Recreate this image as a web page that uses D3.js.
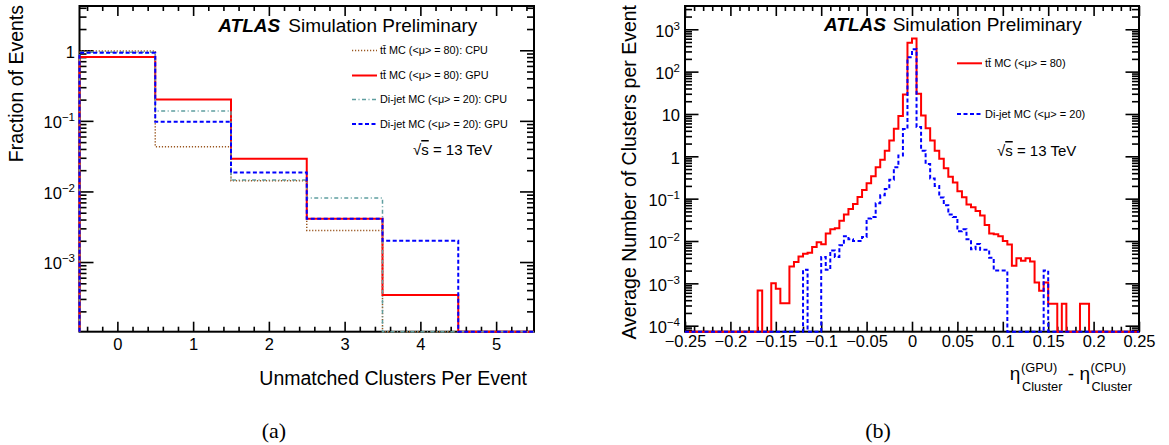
<!DOCTYPE html>
<html>
<head>
<meta charset="utf-8">
<script src="https://cdn.jsdelivr.net/npm/d3@7"></script>
<style>
  body { margin: 0; background: #fff; }
  svg { display: block; font-family: "Liberation Sans", Arial, Helvetica, sans-serif; }
</style>
</head>
<body>
<svg id="chart" width="1169" height="445"></svg>
<script>
// ---- panel (a): fraction of events vs unmatched clusters per event
const unmatchedClusters = [0, 1, 2, 3, 4, 5];
const ttbarCpuFrac = [0.98, 0.043, 0.0142, 0.0028, 0, 0];
const ttbarGpuFrac = [0.80, 0.20, 0.029, 0.0041, 0.00034, 0];
const dijetCpuFrac = [0.94, 0.138, 0.0145, 0.0081, 0, 0];
const dijetGpuFrac = [0.92, 0.097, 0.0185, 0.0041, 0.0020, 0];

// ---- panel (b): average clusters per event vs eta(GPU) - eta(CPU), bins of 0.005 from -0.25
const etaLow = -0.25;
const etaBinWidth = 0.005;
const ttbarEtaDiff = [
  0, 0, 0, 0, 0, 0, 0, 0, 0, 0,
  0, 0, 0, 0, 0, 0, 6.8e-4, 0, 0, 1.0e-3,
  7.5e-4, 3.4e-4, 3.4e-4, 2.5e-3, 3.2e-3, 4.3e-3, 5.0e-3, 5.3e-3, 7.2e-3, 9.4e-3,
  8.4e-3, 0.015, 0.019, 0.020, 0.030, 0.042, 0.057, 0.075, 0.11, 0.16,
  0.23, 0.34, 0.55, 0.83, 1.36, 2.35, 4.5, 9.0, 29, 480,
  610, 30, 9.2, 4.6, 2.35, 1.36, 0.88, 0.52, 0.33, 0.24,
  0.15, 0.108, 0.073, 0.063, 0.051, 0.040, 0.024, 0.015, 0.0144, 0.013,
  0.010, 0.0083, 0.0026, 0.0039, 0.0034, 0.0039, 0.0033, 1.05e-3, 6.7e-4, 1.05e-3,
  3.3e-4, 3.3e-4, 0, 3.3e-4, 0, 0, 0, 3.3e-4, 3.3e-4, 0,
  0, 0, 0, 0, 0, 0, 0, 0, 0, 0
];
const dijetEtaDiff = [
  0, 0, 0, 0, 0, 0, 0, 0, 0, 0,
  0, 0, 0, 0, 0, 0, 0, 0, 0, 0,
  0, 0, 0, 0, 0, 0, 2.1e-3, 0, 0, 0,
  4.2e-3, 2.1e-3, 6.0e-3, 4.2e-3, 7.9e-3, 0.013, 0.011, 0.010, 0.010, 0.0125,
  0.034, 0.037, 0.078, 0.12, 0.17, 0.28, 0.55, 1.05, 4.4, 220,
  340, 4.9, 1.36, 0.66, 0.30, 0.20, 0.107, 0.070, 0.042, 0.037,
  0.017, 0.019, 0.011, 0.0064, 0.0085, 0.0062, 0.0062, 0.0040, 0.0020, 0.0020,
  0.0020, 0, 0, 0, 0, 0, 0, 0, 0, 0.0020,
  0, 0, 0, 0, 0, 0, 0, 0, 0, 0,
  0, 0, 0, 0, 0, 0, 0, 0, 0, 0
];

// tick labels
const unmatchedTicks = [0, 1, 2, 3, 4, 5];
const fractionTicks = [1e-3, 1e-2, 1e-1, 1];
const etaTicks = [-0.25, -0.2, -0.15, -0.1, -0.05, 0, 0.05, 0.1, 0.15, 0.2, 0.25];
const clusterTicks = [1e-4, 1e-3, 1e-2, 1e-1, 1, 10, 100, 1000];

const svg = d3.select("#chart");
const sansFont = "Liberation Sans, Arial, Helvetica, sans-serif";
const labelFont = 16.5;

const powerLabel = (text, supSize, supShift) => text.each(function (d) {
    const e = Math.round(Math.log10(d));
    const t = d3.select(this).text(null);
    if (e === 0) { t.text("1"); return; }
    if (e === 1) { t.text("10"); return; }
    t.append("tspan").text("10");
    t.append("tspan")
        .attr("font-size", supSize)
        .attr("dy", -supShift)
        .text(e < 0 ? "\u2212" + (-e) : String(e));
});

const logMinors = (y) => {
    const [lo, hi] = y.domain();
    const out = [];
    for (let e = Math.floor(Math.log10(lo)); e <= Math.ceil(Math.log10(hi)); e++) {
        for (let m = 2; m <= 9; m++) {
            const v = m * Math.pow(10, e);
            if (v > lo && v < hi) out.push(v);
        }
    }
    return out;
};

const drawFrame = (x, y, opts) => {
    const {xMajor, xMinor, xFormat, xPad, xLen, yLen} = opts;
    const [x0, x1] = x.range();
    const [y0, y1] = y.range();
    const g = svg.append("g");
    const style = a => a.call(s => s.select(".domain").remove())
        .call(s => s.selectAll("line").attr("stroke", "#000").attr("stroke-width", 1.6))
        .attr("font-family", sansFont)
        .attr("font-size", labelFont)
        .call(s => s.selectAll("text").attr("fill", "#000"));

    g.append("g").attr("transform", `translate(0,${y0})`)
        .call(d3.axisBottom(x).tickValues(xMajor).tickSize(-xLen[0]).tickSizeOuter(0).tickPadding(xPad).tickFormat(xFormat))
        .call(style);
    g.append("g").attr("transform", `translate(0,${y0})`)
        .call(d3.axisBottom(x).tickValues(xMinor).tickSize(-xLen[1]).tickSizeOuter(0).tickFormat(""))
        .call(style);
    g.append("g").attr("transform", `translate(0,${y1})`)
        .call(d3.axisTop(x).tickValues(xMajor).tickSize(-xLen[0]).tickSizeOuter(0).tickFormat(""))
        .call(style);
    g.append("g").attr("transform", `translate(0,${y1})`)
        .call(d3.axisTop(x).tickValues(xMinor).tickSize(-xLen[1]).tickSizeOuter(0).tickFormat(""))
        .call(style);

    const yMinor = logMinors(y);
    const yMajor = opts.yMajor.filter(v => v >= y.domain()[0] && v <= y.domain()[1]);
    g.append("g").attr("transform", `translate(${x0},0)`)
        .call(d3.axisLeft(y).tickValues(yMajor).tickSize(-yLen[0]).tickSizeOuter(0).tickPadding(opts.yPad))
        .call(style)
        .call(s => s.selectAll(".tick text").attr("dy", "0.42em").call(powerLabel, 11.5, 7));
    g.append("g").attr("transform", `translate(${x0},0)`)
        .call(d3.axisLeft(y).tickValues(yMinor).tickSize(-yLen[1]).tickSizeOuter(0).tickFormat(""))
        .call(style);
    g.append("g").attr("transform", `translate(${x1},0)`)
        .call(d3.axisRight(y).tickValues(yMajor).tickSize(-yLen[0]).tickSizeOuter(0).tickFormat(""))
        .call(style);
    g.append("g").attr("transform", `translate(${x1},0)`)
        .call(d3.axisRight(y).tickValues(yMinor).tickSize(-yLen[1]).tickSizeOuter(0).tickFormat(""))
        .call(style);

    g.append("rect")
        .attr("x", x0).attr("y", y1)
        .attr("width", x1 - x0).attr("height", y0 - y1)
        .attr("fill", "none").attr("stroke", "#000").attr("stroke-width", 2);
};

const drawHist = (x, y, edges, values, style) => {
    const bottom = y.range()[0];
    const yv = v => v > 0 ? y(v) : bottom;
    const pts = [[x(edges[0]), bottom]];
    values.forEach((v, i) => {
        pts.push([x(edges[i]), yv(v)], [x(edges[i + 1]), yv(v)]);
    });
    pts.push([x(edges[edges.length - 1]), bottom]);
    svg.append("path")
        .attr("d", d3.line()(pts))
        .attr("fill", "none")
        .attr("stroke", style.color)
        .attr("stroke-width", style.width)
        .attr("stroke-dasharray", style.dash);
};

const drawLegend = (entries, x, ys, fontSize) => {
    entries.forEach((e, i) => {
        svg.append("line")
            .attr("x1", x).attr("x2", x + 25)
            .attr("y1", ys[i]).attr("y2", ys[i])
            .attr("stroke", e.style.color)
            .attr("stroke-width", e.style.width)
            .attr("stroke-dasharray", e.style.dash);
        svg.append("text")
            .attr("x", x + 28).attr("y", ys[i])
            .attr("dy", "0.35em")
            .attr("font-size", fontSize)
            .text(e.label);
    });
};

const atlasLabel = (x, xs, yb) => {
    svg.append("text").attr("x", x).attr("y", yb)
        .attr("font-size", 19).attr("font-weight", "bold").attr("font-style", "italic")
        .text("ATLAS");
    svg.append("text").attr("x", xs).attr("y", yb)
        .attr("font-size", 19)
        .text("Simulation Preliminary");
};

const sqrtS = (x, yb) => {
    const t = svg.append("text").attr("x", x).attr("y", yb).attr("font-size", 15);
    t.append("tspan").text("\u221A");
    t.append("tspan").attr("text-decoration", "overline").text("s");
    t.append("tspan").text(" = 13 TeV");
};

const styles = {
    ttCpu: {color: "#99561f", width: 1.5, dash: "1.2,1.8"},
    ttGpu: {color: "#ff0000", width: 2, dash: null},
    djCpu: {color: "#5f9ea0", width: 1.5, dash: "4,2.5,1,2.5"},
    djGpu: {color: "#0000ff", width: 2, dash: "4,2.5"}
};

// ---------------- panel (a)
const xA = d3.scaleLinear().domain([-0.5, 5.5]).range([79.5, 534]);
const yA = d3.scaleLog().domain([1.03e-4, 4.24]).range([331.7, 6]);
const edgesA = unmatchedClusters.map(c => c - 0.5).concat(unmatchedClusters[unmatchedClusters.length - 1] + 0.5);

drawFrame(xA, yA, {
    xMajor: unmatchedTicks,
    xMinor: d3.range(-2, 28).map(i => i / 5).filter(v => Math.abs(v - Math.round(v)) > 1e-6),
    xFormat: d3.format("d"),
    xPad: 6.5, xLen: [10, 5],
    yMajor: fractionTicks, yLen: [14, 7], yPad: 4.5
});
drawHist(xA, yA, edgesA, ttbarCpuFrac, styles.ttCpu);
drawHist(xA, yA, edgesA, ttbarGpuFrac, styles.ttGpu);
drawHist(xA, yA, edgesA, dijetCpuFrac, styles.djCpu);
drawHist(xA, yA, edgesA, dijetGpuFrac, styles.djGpu);

atlasLabel(218.3, 288.3, 31.7);
drawLegend([
    {label: "tt\u0304 MC (<\u03BC> = 80): CPU", style: styles.ttCpu},
    {label: "tt\u0304 MC (<\u03BC> = 80): GPU", style: styles.ttGpu},
    {label: "Di-jet MC (<\u03BC> = 20): CPU", style: styles.djCpu},
    {label: "Di-jet MC (<\u03BC> = 20): GPU", style: styles.djGpu}
], 352, [50.5, 75.5, 99.5, 124], 10.8);
sqrtS(413, 155);

svg.append("text")
    .attr("x", 527).attr("y", 385)
    .attr("text-anchor", "end").attr("font-size", 19.5)
    .text("Unmatched Clusters Per Event");
svg.append("text")
    .attr("transform", "translate(22.5,5) rotate(-90)")
    .attr("text-anchor", "end").attr("font-size", 19.5)
    .text("Fraction of Events");

// ---------------- panel (b)
const xB = d3.scaleLinear().domain([-0.25, 0.25]).range([685, 1139]);
const yB = d3.scaleLog().domain([Math.pow(10, -4.142), Math.pow(10, 3.55)]).range([331.7, 6]);
const edgesB = d3.range(ttbarEtaDiff.length + 1).map(i => etaLow + i * etaBinWidth);

drawFrame(xB, yB, {
    xMajor: etaTicks,
    xMinor: d3.range(-25, 26).filter(i => i % 5 !== 0).map(i => i / 100),
    xFormat: d => d === 0 ? "0" : (d < 0 ? "\u2212" : "") + String(+Math.abs(d).toFixed(2)),
    xPad: 3.8, xLen: [10, 5],
    yMajor: clusterTicks, yLen: [13.5, 7], yPad: 5
});
drawHist(xB, yB, edgesB, ttbarEtaDiff, styles.ttGpu);
drawHist(xB, yB, edgesB, dijetEtaDiff, styles.djGpu);

atlasLabel(824, 892.7, 31);
drawLegend([
    {label: "tt\u0304 MC (<\u03BC> = 80)", style: styles.ttGpu},
    {label: "Di-jet MC (<\u03BC> = 20)", style: styles.djGpu}
], 957, [63.3, 114], 11);
sqrtS(997, 156);

svg.append("text")
    .attr("transform", "translate(636,5) rotate(-90)")
    .attr("text-anchor", "end").attr("font-size", 19.5)
    .text("Average Number of Clusters per Event");

// eta title with stacked super/subscripts
const etaTitle = svg.append("g");
let cursor = 0;
const etaParts = [
    {base: "\u03B7", sup: "(GPU)", sub: "Cluster"},
    {base: " - "},
    {base: "\u03B7", sup: "(CPU)", sub: "Cluster"}
];
etaParts.forEach(p => {
    const b = etaTitle.append("text").attr("x", cursor).attr("y", 0)
        .attr("font-size", 19).attr("xml:space", "preserve").text(p.base);
    cursor += b.node().getComputedTextLength();
    if (p.sup) {
        const s1 = etaTitle.append("text").attr("x", cursor + 0.5).attr("y", -8.3)
            .attr("font-size", 12.8).text(p.sup);
        const s2 = etaTitle.append("text").attr("x", cursor + 1.5).attr("y", 10.7)
            .attr("font-size", 12.8).text(p.sub);
        cursor += Math.max(s1.node().getComputedTextLength() + 0.5, s2.node().getComputedTextLength() + 1.5);
    }
});
etaTitle.attr("transform", `translate(${1132 - cursor},380)`);

// captions
svg.append("text").attr("x", 274).attr("y", 438)
    .attr("text-anchor", "middle").attr("font-family", "Liberation Serif, serif")
    .attr("font-size", 22).text("(a)");
svg.append("text").attr("x", 878).attr("y", 438)
    .attr("text-anchor", "middle").attr("font-family", "Liberation Serif, serif")
    .attr("font-size", 22).text("(b)");
</script>
</body>
</html>
